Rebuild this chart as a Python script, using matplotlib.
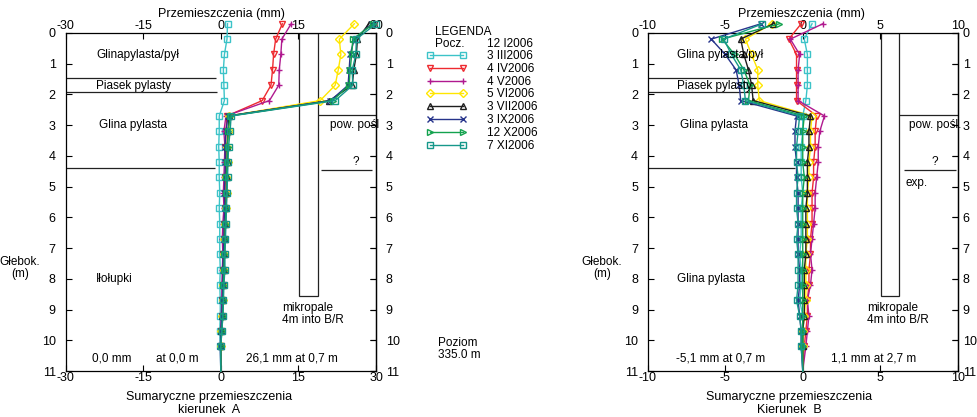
import numpy as np
import matplotlib.pyplot as plt
from matplotlib.patches import Rectangle

plt.rcParams['font.family'] = ['Liberation Sans', 'DejaVu Sans']
plt.rcParams['axes.unicode_minus'] = False

# --- dane ---
glebokosc = [-0.3, 0.2, 0.7, 1.2, 1.7, 2.2, 2.7, 3.2, 3.7, 4.2, 4.7, 5.2,
             5.7, 6.2, 6.7, 7.2, 7.7, 8.2, 8.7, 9.2, 9.7, 10.2, 11.0]

daty = ['3 III2006', '4 IV2006', '4 V2006', '5 VI2006', '3 VII2006',
        '3 IX2006', '12 X2006', '7 XI2006']
kolory = ['#3cc3c8', '#ee2a30', '#b0198f', '#ffe600', '#1e1e1e',
          '#27348b', '#13a24e', '#16988a']
markery = ['s', 'v', '+', 'D', '^', 'x', '>', 's']

# kierunek A (mm)
A_iii = [1.3, 1.2, 0.7, 0.5, 0.6, 0.7, -0.3, -0.3, -0.4, -0.3, -0.3, -0.2,
         -0.3, -0.2, -0.2, -0.2, -0.1, -0.2, -0.1, -0.1, -0.2, -0.1, 0.0]
A_iv = [11.9, 10.6, 10.2, 10.0, 9.7, 8.0, 1.2, 1.0, 0.9, 1.0, 0.9, 0.8,
        0.9, 0.7, 0.6, 0.5, 0.5, 0.4, 0.3, 0.2, 0.1, 0.0, 0.0]
A_v = [13.6, 11.8, 11.6, 11.3, 11.2, 9.4, 1.0, 0.6, 0.8, 0.7, 0.6, 0.5,
       0.6, 0.4, 0.3, 0.4, 0.3, 0.2, 0.2, 0.1, 0.0, 0.0, 0.0]
A_vi = [25.8, 22.9, 23.2, 22.7, 22.1, 19.2, 1.5, 1.6, 1.2, 1.3, 1.1, 1.2,
        1.0, 0.8, 0.7, 0.6, 0.6, 0.5, 0.4, 0.3, 0.1, 0.0, 0.0]
A_vii = [28.6, 26.4, 26.2, 25.7, 25.4, 21.0, 1.6, 1.4, 1.2, 1.3, 1.2, 1.1,
         1.0, 0.9, 0.8, 0.7, 0.6, 0.5, 0.4, 0.3, 0.1, 0.0, 0.0]
A_ix = [29.2, 25.8, 25.0, 24.8, 24.6, 21.2, 1.4, 1.0, 0.8, 0.9, 0.8, 0.7,
        0.8, 0.6, 0.6, 0.5, 0.4, 0.4, 0.3, 0.2, 0.0, -0.1, 0.0]
A_x = [29.5, 25.5, 25.3, 25.0, 24.8, 21.6, 1.8, 1.4, 1.3, 1.2, 1.1, 1.1,
       1.0, 0.9, 0.8, 0.7, 0.6, 0.5, 0.5, 0.4, 0.2, 0.0, 0.0]
A_xi = [30.0, 26.2, 26.1, 25.4, 25.5, 22.1, 2.0, 1.8, 1.5, 1.4, 1.3, 1.2,
        1.1, 1.0, 0.9, 0.8, 0.8, 0.6, 0.5, 0.4, 0.2, 0.0, 0.0]

# kierunek B (mm)
B_iii = [0.6, 0.1, 0.3, 0.3, 0.3, 0.2, 0.0, 0.0, -0.1, -0.1, -0.1, 0.0,
         -0.1, -0.1, -0.1, -0.2, -0.1, -0.1, -0.2, 0.0, 0.0, 0.0, 0.0]
B_iv = [-0.1, -0.9, -0.4, -0.4, -0.4, -0.4, 0.9, 0.8, 0.8, 0.7, 0.7, 0.6,
        0.6, 0.6, 0.5, 0.5, 0.4, 0.4, 0.3, 0.3, 0.2, 0.1, 0.0]
B_v = [1.3, -0.8, -0.2, -0.3, -0.3, -0.3, 1.4, 1.1, 1.0, 1.0, 0.9, 0.8,
       0.8, 0.7, 0.6, 0.5, 0.6, 0.5, 0.3, 0.4, 0.3, 0.2, 0.0]
B_vi = [-2.0, -3.7, -3.3, -2.9, -2.9, -2.8, 0.6, 0.5, 0.5, 0.4, 0.4, 0.3,
        0.3, 0.3, 0.3, 0.2, 0.2, 0.2, 0.2, 0.1, 0.0, 0.0, 0.0]
B_vii = [-1.9, -4.0, -3.8, -3.5, -3.3, -3.2, 0.5, 0.4, 0.4, 0.3, 0.3, 0.3,
         0.2, 0.2, 0.2, 0.2, 0.1, 0.1, 0.1, 0.1, 0.0, 0.0, 0.0]
B_ix = [-2.7, -5.9, -5.0, -4.3, -4.1, -4.0, -0.4, -0.5, -0.5, -0.4, -0.4, -0.3,
        -0.3, -0.3, -0.3, -0.3, -0.2, -0.2, -0.3, -0.2, -0.1, -0.1, 0.0]
B_x = [-1.5, -5.2, -4.4, -3.8, -3.4, -3.5, 0.1, 0.0, 0.0, 0.0, 0.1, 0.0,
       0.0, 0.0, 0.0, 0.0, 0.0, 0.0, 0.0, 0.0, 0.0, 0.0, 0.0]
B_xi = [-2.6, -5.1, -4.6, -4.0, -3.8, -3.7, -0.2, -0.3, -0.4, -0.4, -0.3, -0.4,
        -0.4, -0.3, -0.4, -0.3, -0.3, -0.3, -0.4, -0.2, -0.1, -0.1, 0.0]

serie_A = [A_iii, A_iv, A_v, A_vi, A_vii, A_ix, A_x, A_xi]
serie_B = [B_iii, B_iv, B_v, B_vi, B_vii, B_ix, B_x, B_xi]

# warstwy gruntu (m) i rysunek mikropala
granice_warstw = [1.45, 1.93, 4.38]
pow_poslizgu = 2.66
linia_pytajnik = 4.45
spod_pala = 8.55


def rysuj_panel(ax, serie, zakres, ticki, skala_pala, koniec_warstw, pad_prawy):
    linie = []
    for wart, kol, mk in zip(serie, kolory, markery):
        ln, = ax.plot(wart, glebokosc, color=kol, lw=1.0, marker=mk, ms=4.5,
                      mfc='none', mew=1.0, markevery=slice(0, 22), clip_on=False, zorder=3)
        linie.append(ln)
    ax.set_xlim(-zakres, zakres)
    ax.set_ylim(11, 0)
    ax.set_xticks(ticki)
    ax.set_yticks(range(12))
    ax.tick_params(direction='in', length=4, width=0.8, labelsize=9,
                   top=True, right=True, labeltop=True, pad=1)
    ax.tick_params(axis='y', pad=7)
    # prawa os glebokosci z osobnym odstepem
    ax2 = ax.secondary_yaxis('right')
    ax2.set_yticks(range(12))
    ax2.tick_params(direction='in', length=4, width=0.8, labelsize=9, pad=pad_prawy)
    for s in list(ax.spines.values()) + list(ax2.spines.values()):
        s.set_linewidth(0.9)
    # granice warstw
    for g, kon in zip(granice_warstw, koniec_warstw):
        ax.hlines(g, -zakres, kon, color='#222222', lw=0.9)
    # mikropal
    x0, x1 = skala_pala
    ax.add_patch(Rectangle((x0, 0), x1 - x0, spod_pala, fill=False, ec='#222222', lw=0.9))
    ax.hlines(pow_poslizgu, x1, zakres, color='#222222', lw=0.9)
    return linie


fig = plt.figure(figsize=(9.78, 4.17), dpi=100)
axA = fig.add_axes([0.067, 0.1103, 0.3175, 0.8106])
axB = fig.add_axes([0.6623, 0.1103, 0.317, 0.8106])

linieA = rysuj_panel(axA, serie_A, 30, [-30, -15, 0, 15, 30], (15.2, 18.7), [-1.0, -0.7, -1.2], 7)
axA.hlines(linia_pytajnik, 19.4, 29.2, color='#222222', lw=0.9)
rysuj_panel(axB, serie_B, 10, [-10, -5, 0, 5, 10], (5.07, 6.23), [-0.3, -0.3, -0.5], 3.5)
axB.hlines(linia_pytajnik, 6.5, 9.9, color='#222222', lw=0.9)

fs = 8.5
# opisy panelu A
axA.text(-24.1, 0.71, 'Glinapylasta/pył', fontsize=fs, va='center')
axA.text(-24.1, 1.72, 'Piasek pylasty', fontsize=fs, va='center')
axA.text(-23.5, 3.0, 'Glina pylasta', fontsize=fs, va='center')
axA.text(-24.1, 8.0, 'Iłołupki', fontsize=fs, va='center')
axA.text(21.2, 3.0, 'pow. pośl', fontsize=fs, va='center')
axA.text(25.4, 4.2, '?', fontsize=fs, va='center')
axA.text(11.9, 9.15, 'mikropale\n4m into B/R', fontsize=fs, va='center', linespacing=0.95)
axA.text(-24.8, 10.6, '0,0 mm', fontsize=fs, va='center')
axA.text(-12.5, 10.6, 'at 0,0 m', fontsize=fs, va='center')
axA.text(4.9, 10.6, '26,1 mm at 0,7 m', fontsize=fs, va='center')

# opisy panelu B
axB.text(-8.1, 0.71, 'Glina pylasta/pył', fontsize=fs, va='center')
axB.text(-8.1, 1.72, 'Piasek pylasty', fontsize=fs, va='center')
axB.text(-7.9, 3.0, 'Glina pylasta', fontsize=fs, va='center')
axB.text(-8.1, 8.0, 'Glina pylasta', fontsize=fs, va='center')
axB.text(6.85, 3.0, 'pow. pośl.', fontsize=fs, va='center')
axB.text(8.3, 4.2, '?', fontsize=fs, va='center')
axB.text(6.6, 4.87, 'exp.', fontsize=fs, va='center')
axB.text(4.15, 9.15, 'mikropale\n4m into B/R', fontsize=fs, va='center', linespacing=0.95)
axB.text(-8.2, 10.6, '-5,1 mm at 0,7 m', fontsize=fs, va='center')
axB.text(1.8, 10.6, '1,1 mm at 2,7 m', fontsize=fs, va='center')

# tytuly osi
W, H = 978.0, 417.0
for xc, xb, kier in [(221.5, 209, 'kierunek  A'), (801.7, 789, 'Kierunek  B')]:
    fig.text(xc / W, 1 - 14 / H, 'Przemieszczenia (mm)', fontsize=9, ha='center', va='center')
    fig.text(xb / W, 1 - 397 / H, 'Sumaryczne przemieszczenia', fontsize=9, ha='center', va='center')
    fig.text(xb / W, 1 - 410 / H, kier, fontsize=9, ha='center', va='center')
for xg in [20, 602]:
    fig.text(xg / W, 1 - 262 / H, 'Głebok.', fontsize=8.5, ha='center', va='center')
    fig.text(xg / W, 1 - 274 / H, '(m)', fontsize=8.5, ha='center', va='center')

fig.text(438 / W, 1 - 349 / H, 'Poziom\n335.0 m', fontsize=8.5, ha='left', va='center', linespacing=1.0)

# legenda
fig.text(435 / W, 1 - 32 / H, 'LEGENDA', fontsize=8.5, va='center')
fig.text(435 / W, 1 - 44 / H, 'Pocz.', fontsize=8.5, va='center')
fig.text(487 / W, 1 - 44 / H, '12 I2006', fontsize=8.5, va='center')
fig.legend(handles=linieA, labels=daty, loc='upper left', bbox_to_anchor=(426 / W, 1 - 50 / H),
           frameon=False, fontsize=8.5, numpoints=2, handlelength=3.4, handletextpad=1.8,
           labelspacing=0.07, borderpad=0, borderaxespad=0, markerscale=0.9)

fig.savefig('out.png', dpi=100)
